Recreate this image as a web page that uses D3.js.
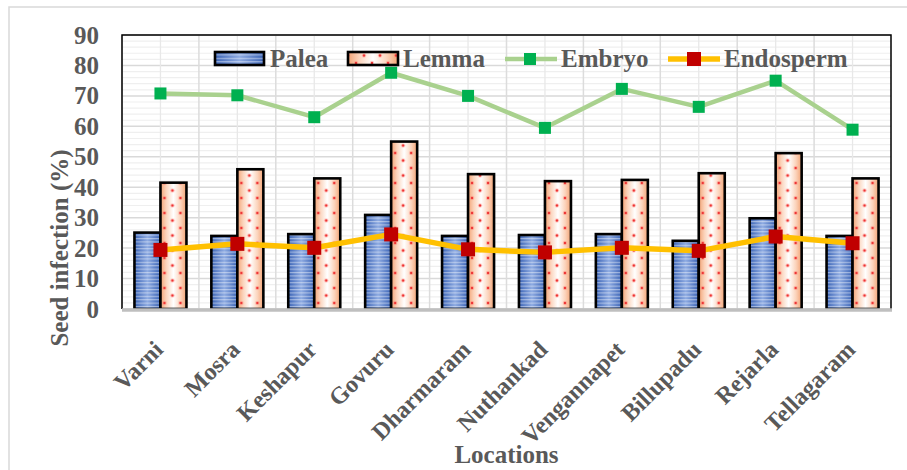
<!DOCTYPE html>
<html>
<head>
<meta charset="utf-8">
<script src="https://cdn.jsdelivr.net/npm/d3@7/dist/d3.min.js"></script>
<style>
  html, body { margin: 0; padding: 0; background: #fff; }
  svg { display: block; }
  text { font-family: "Liberation Serif", "Times New Roman", serif; font-weight: bold; }
</style>
</head>
<body>
<svg id="chart" width="907" height="470"></svg>
<script>
// ---- data ----
const locations = ["Varni","Mosra","Keshapur","Govuru","Dharmaram","Nuthankad","Vengannapet","Billupadu","Rejarla","Tellagaram"];
const palea     = [25.1, 24.0, 24.6, 30.9, 24.0, 24.3, 24.6, 22.4, 29.8, 24.0];
const lemma     = [41.5, 45.9, 42.9, 55.0, 44.3, 42.0, 42.4, 44.6, 51.2, 42.9];
const embryo    = [70.8, 70.2, 63.0, 77.6, 70.0, 59.5, 72.3, 66.4, 75.0, 58.9];
const endosperm = [19.4, 21.4, 20.1, 24.5, 19.6, 18.6, 20.1, 19.1, 23.8, 21.6];
const yTicks    = [0,10,20,30,40,50,60,70,80,90];
const seriesNames = ["Palea","Lemma","Embryo","Endosperm"];

// ---- layout ----
const svg = d3.select("#chart");
const L = 122, R = 891, T = 35, B = 309;
const grey = "#595959";

const x0 = d3.scaleBand().domain(locations).range([L, R]).padding(0);
const barW = 26;
const x1 = d3.scaleBand().domain(["Palea","Lemma"]).range([-barW, barW]).padding(0);
const y = d3.scaleLinear().domain([0, 90]).range([B, T]);

// ---- defs ----
const defs = svg.append("defs");
const gP = defs.append("linearGradient").attr("id","gPalea").attr("x1","0").attr("x2","1").attr("y1","0").attr("y2","0");
[["0%","#3a63b5"],["50%","#8eabe2"],["100%","#3a63b5"]].forEach(s=>gP.append("stop").attr("offset",s[0]).attr("stop-color",s[1]));
const gL = defs.append("linearGradient").attr("id","gLemma").attr("x1","0").attr("x2","1").attr("y1","0").attr("y2","0");
[["0%","#f3a374"],["22%","#fbd3bb"],["50%","#ffffff"],["78%","#fbd3bb"],["100%","#f3a374"]].forEach(s=>gL.append("stop").attr("offset",s[0]).attr("stop-color",s[1]));

const pS = defs.append("pattern").attr("id","stripes").attr("patternUnits","userSpaceOnUse").attr("width",6).attr("height",3.4);
pS.append("rect").attr("x",0).attr("y",0).attr("width",6).attr("height",1.1).attr("fill","rgba(255,255,255,0.45)");

const pD = defs.append("pattern").attr("id","dots").attr("patternUnits","userSpaceOnUse").attr("width",16).attr("height",15);
[[4,3],[12,10.5]].forEach(p=>{
  pD.append("circle").attr("cx",p[0]).attr("cy",p[1]).attr("r",2.2).attr("fill","rgba(255,120,110,0.35)");
  pD.append("circle").attr("cx",p[0]).attr("cy",p[1]).attr("r",1.2).attr("fill","#ee3333");
});

// ---- outer border ----
svg.append("rect").attr("x",9).attr("y",7).attr("width",920).attr("height",480)
  .attr("fill","none").attr("stroke","#d9d9d9").attr("stroke-width",1.5);

// ---- gridlines ----
const grid = svg.append("g");
d3.range(0, 91, 2).forEach(v => {
  grid.append("line").attr("x1",L).attr("x2",R).attr("y1",y(v)).attr("y2",y(v))
    .attr("stroke", v % 10 === 0 ? "#d9d9d9" : "#efefef").attr("stroke-width", v % 10 === 0 ? 1.5 : 1.2);
});
locations.forEach(c => {
  const xb = x0(c), xc = x0(c) + x0.bandwidth()/2;
  grid.append("line").attr("x1",xb).attr("x2",xb).attr("y1",T).attr("y2",B).attr("stroke","#dcdcdc").attr("stroke-width",1.5);
  grid.append("line").attr("x1",xc).attr("x2",xc).attr("y1",T).attr("y2",B).attr("stroke","#e8e8e8").attr("stroke-width",1.3);
});

// plot frame
svg.append("path").attr("d",`M${L},${B} V${T} H${R} V${B}`).attr("fill","none").attr("stroke","#000").attr("stroke-width",1.5);

// ---- bars ----
const groups = svg.append("g").selectAll("g").data(locations).join("g")
  .attr("transform", c => `translate(${x0(c) + x0.bandwidth()/2},0)`);

function drawBars(name, vals, grad, overlay) {
  groups.each(function(c, i) {
    const g = d3.select(this);
    const bx = x1(name), bw = x1.bandwidth(), by = y(vals[i]), bh = B - y(vals[i]);
    g.append("rect").attr("x",bx).attr("y",by).attr("width",bw).attr("height",bh).attr("fill",`url(#${grad})`);
    g.append("rect").attr("x",bx).attr("y",by).attr("width",bw).attr("height",bh).attr("fill",`url(#${overlay})`);
    g.append("rect").attr("x",bx).attr("y",by).attr("width",bw).attr("height",bh)
      .attr("fill","none").attr("stroke","#000").attr("stroke-width",2.6);
  });
}
drawBars("Palea", palea, "gPalea", "stripes");
drawBars("Lemma", lemma, "gLemma", "dots");

// x axis line (grey)
svg.append("line").attr("x1",L).attr("x2",R+1).attr("y1",B+1).attr("y2",B+1).attr("stroke","#bfbfbf").attr("stroke-width",3.5);

// ---- lines ----
const cx = (c) => x0(c) + x0.bandwidth()/2;
const lineGen = d3.line().x(d => cx(d.c)).y(d => y(d.v));
function drawLine(vals, lineColor, lw, markColor, ms) {
  const data = locations.map((c, i) => ({c, v: vals[i]}));
  svg.append("path").datum(data).attr("d", lineGen).attr("fill","none")
    .attr("stroke", lineColor).attr("stroke-width", lw).attr("stroke-linejoin","round");
  svg.append("g").selectAll("rect").data(data).join("rect")
    .attr("x", d => cx(d.c) - ms/2).attr("y", d => y(d.v) - ms/2)
    .attr("width", ms).attr("height", ms).attr("fill", markColor);
}
drawLine(embryo, "#a9d18e", 4.5, "#00b050", 12);
drawLine(endosperm, "#ffc000", 5.5, "#c00000", 14);

// ---- y axis ----
const yAxis = svg.append("g").attr("transform",`translate(${L},0)`)
  .call(d3.axisLeft(y).tickValues(yTicks).tickSize(0).tickPadding(23));
yAxis.select(".domain").remove();
yAxis.selectAll("text").attr("fill",grey).style("font-size","25px")
  .style("font-family","'Liberation Serif', serif").style("font-weight","bold");

// ---- x axis labels ----
const xAxis = svg.append("g").attr("transform",`translate(0,${B})`)
  .call(d3.axisBottom(x0).tickSize(0));
xAxis.select(".domain").remove();
xAxis.selectAll("text")
  .attr("fill", grey).attr("text-anchor","end")
  .attr("x", 0).attr("y", 0).attr("dy", 0)
  .attr("transform", "translate(4,42) rotate(-45)")
  .style("font-size","24px").style("font-family","'Liberation Serif', serif").style("font-weight","bold");

// ---- axis titles ----
svg.append("text").attr("transform","translate(68,248) rotate(-90)").attr("text-anchor","middle")
  .attr("fill",grey).style("font-size","25px").text("Seed infection (%)");
svg.append("text").attr("x",(L+R)/2).attr("y",463).attr("text-anchor","middle")
  .attr("fill",grey).style("font-size","25px").text("Locations");

// ---- legend ----
const leg = svg.append("g");
const legY = 59;
// Palea
leg.append("rect").attr("x",215).attr("y",52).attr("width",49).attr("height",13).attr("fill","url(#gPalea)");
leg.append("rect").attr("x",215).attr("y",52).attr("width",49).attr("height",13).attr("fill","url(#stripes)");
leg.append("rect").attr("x",215).attr("y",52).attr("width",49).attr("height",13).attr("fill","none").attr("stroke","#000").attr("stroke-width",2.6);
leg.append("text").attr("x",270).attr("y",67).attr("fill",grey).style("font-size","25px").text(seriesNames[0]);
// Lemma
leg.append("rect").attr("x",348).attr("y",52).attr("width",50).attr("height",13).attr("fill","url(#gLemma)");
leg.append("rect").attr("x",348).attr("y",52).attr("width",50).attr("height",13).attr("fill","url(#dots)");
leg.append("rect").attr("x",348).attr("y",52).attr("width",50).attr("height",13).attr("fill","none").attr("stroke","#000").attr("stroke-width",2.6);
leg.append("text").attr("x",403).attr("y",67).attr("fill",grey).style("font-size","25px").text(seriesNames[1]);
// Embryo
leg.append("line").attr("x1",505).attr("x2",557).attr("y1",legY).attr("y2",legY).attr("stroke","#a9d18e").attr("stroke-width",4.5);
leg.append("rect").attr("x",530-6).attr("y",legY-6).attr("width",12).attr("height",12).attr("fill","#00b050");
leg.append("text").attr("x",561).attr("y",67).attr("fill",grey).style("font-size","25px").text(seriesNames[2]);
// Endosperm
leg.append("line").attr("x1",668).attr("x2",720).attr("y1",legY).attr("y2",legY).attr("stroke","#ffc000").attr("stroke-width",5.5);
leg.append("rect").attr("x",694-7).attr("y",legY-7).attr("width",14).attr("height",14).attr("fill","#c00000");
leg.append("text").attr("x",724).attr("y",67).attr("fill",grey).style("font-size","25px").text(seriesNames[3]);
</script>
</body>
</html>
